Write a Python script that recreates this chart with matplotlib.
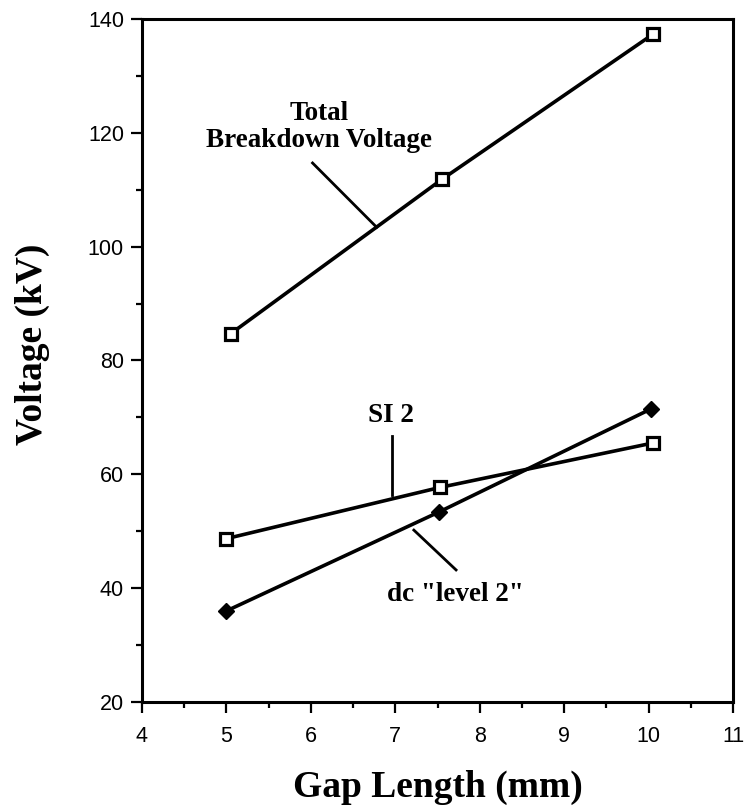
#!/usr/bin/env python3
import matplotlib
matplotlib.use("Agg")
import matplotlib.pyplot as plt

# data
gap_total = [5.05, 7.55, 10.05]
v_total = [84.7, 111.8, 137.3]

gap_si2 = [5.0, 7.53, 10.05]
v_si2 = [48.7, 57.7, 65.5]

gap_dc = [5.0, 7.52, 10.03]
v_dc = [36.0, 53.4, 71.5]

xticks = [4, 5, 6, 7, 8, 9, 10, 11]
yticks = [20, 40, 60, 80, 100, 120, 140]

serif = ["Liberation Serif", "DejaVu Serif"]
sans = ["Liberation Sans", "DejaVu Sans"]


def main():
    dpi = 100
    fig = plt.figure(figsize=(745 / dpi, 808 / dpi), dpi=dpi)
    ax = fig.add_axes([0.1906, 0.1312, 0.7933, 0.8453])

    lw = 2.6
    ax.plot(gap_total, v_total, color="black", lw=lw, marker="s", ms=8,
            mfc="white", mec="black", mew=2.3, zorder=3)
    ax.plot(gap_si2, v_si2, color="black", lw=lw, marker="s", ms=8,
            mfc="white", mec="black", mew=2.3, zorder=3)
    ax.plot(gap_dc, v_dc, color="black", lw=lw, marker="D", ms=8,
            mfc="black", mec="black", zorder=3)

    # labels with leader lines
    ax.text(6.1, 121.0, "Total\nBreakdown Voltage", ha="center", va="center",
            fontsize=19.5, fontweight="bold", family=serif, linespacing=1.12)
    ax.plot([6.02, 6.78], [114.7, 103.4], color="black", lw=2.0)

    ax.text(6.95, 70.4, "SI 2", ha="center", va="center",
            fontsize=19.5, fontweight="bold", family=serif)
    ax.plot([6.96, 6.96], [66.7, 56.3], color="black", lw=2.0)

    ax.text(7.71, 38.8, 'dc "level 2"', ha="center", va="center",
            fontsize=19.5, fontweight="bold", family=serif)
    ax.plot([7.22, 7.72], [50.2, 43.2], color="black", lw=2.0)

    ax.set_xlim(4, 11)
    ax.set_ylim(20, 140)
    ax.set_xticks(xticks)
    ax.set_yticks(yticks)
    ax.set_xticks([x + 0.5 for x in xticks[:-1]], minor=True)
    ax.set_yticks([y + 10 for y in yticks[:-1]], minor=True)
    ax.tick_params(which="major", direction="out", length=8, width=1.6,
                   labelsize=15.5, pad=5)
    ax.tick_params(which="minor", direction="out", length=4.5, width=1.6)
    ax.tick_params(axis="x", which="major", pad=9)
    for lab in ax.get_xticklabels() + ax.get_yticklabels():
        lab.set_fontfamily(sans)

    for sp in ax.spines.values():
        sp.set_linewidth(2.2)

    ax.set_xlabel("Gap Length (mm)", fontsize=27, fontweight="bold",
                  family=serif, labelpad=17)
    ax.set_ylabel("Voltage (kV)", fontsize=27, fontweight="bold",
                  family=serif)
    ax.yaxis.set_label_coords(-0.156, 0.523)

    fig.savefig("out.png", dpi=dpi)


if __name__ == "__main__":
    main()
